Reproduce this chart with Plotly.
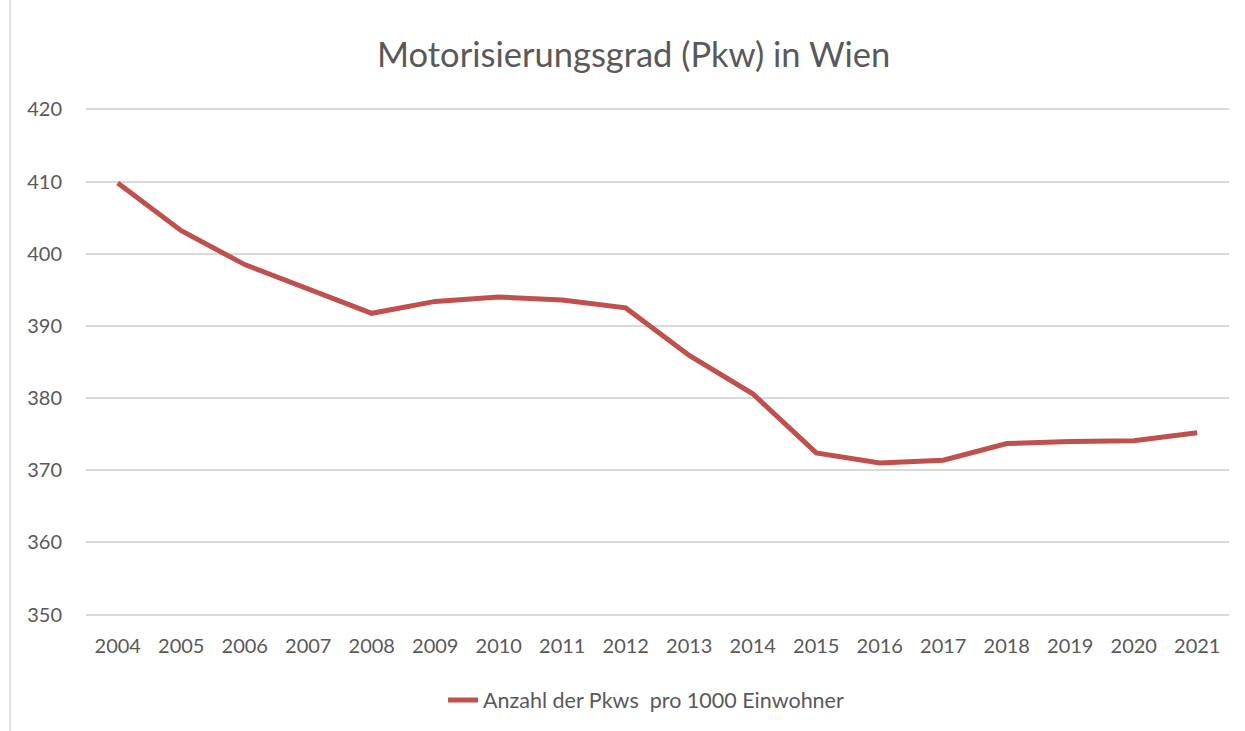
import plotly.graph_objects as go

years = [str(y) for y in range(2004, 2022)]
pkw_per_1000 = [409.8, 403.2, 398.5, 395.1, 391.75, 393.4, 394.0, 393.6, 392.5,
                385.9, 380.6, 372.4, 371.0, 371.4, 373.7, 374.0, 374.1, 375.2]
y_ticks = [350, 360, 370, 380, 390, 400, 410, 420]

FONT = "Lato"
TXT = "#595959"

fig = go.Figure()
fig.add_trace(go.Scatter(
    x=years, y=pkw_per_1000, mode="lines",
    name="Anzahl der Pkws\u00a0 pro 1000 Einwohner",
    line=dict(color="#C0504D", width=5),
))

fig.update_layout(
    width=1245, height=731,
    paper_bgcolor="white", plot_bgcolor="white",
    margin=dict(l=86, r=16, t=107.5, b=113.5),
    font=dict(family=FONT, color=TXT, size=20),
    title=dict(text="Motorisierungsgrad (Pkw) in Wien", x=0.509, xanchor="center",
               y=1 - 55 / 731, yanchor="middle",
               font=dict(family=FONT, size=34.5, color=TXT)),
    showlegend=True,
    legend=dict(orientation="h", x=0.49, xanchor="center", y=-0.163, yanchor="middle",
                font=dict(family=FONT, size=21.5, color=TXT)),
    xaxis=dict(type="category", range=[-0.5, len(years) - 0.5], showgrid=False,
               showline=False, zeroline=False, ticks="", tickfont=dict(size=20, color=TXT),
               ticklabelstandoff=16),
    yaxis=dict(range=[349.8, 420.2], tickvals=y_ticks, showgrid=True, gridcolor="#D9D9D9",
               gridwidth=1.5, zeroline=False, showline=False, ticks="",
               tickfont=dict(size=20, color=TXT), ticklabelstandoff=23),
)
fig.add_shape(type="line", xref="paper", yref="paper",
              x0=(10 - 86) / 1143, x1=(10 - 86) / 1143, y0=-0.3, y1=1.3,
              line=dict(color="#D9D9D9", width=1.5))

fig.write_html("out.html", config={"displayModeBar": False},
               post_script="document.body.style.margin='0';")
